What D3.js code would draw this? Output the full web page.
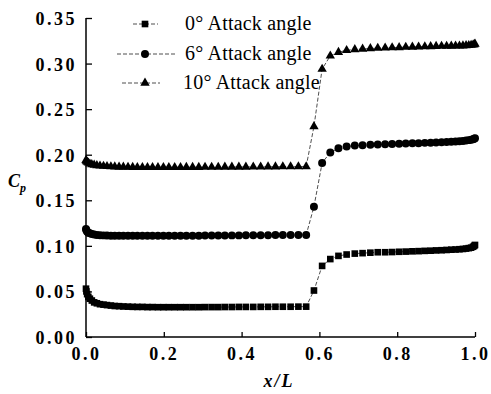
<!DOCTYPE html>
<html>
<head>
<meta charset="utf-8">
<script src="https://cdn.jsdelivr.net/npm/d3@7"></script>
<style>
  html, body { margin: 0; padding: 0; background: #fff; }
  svg { display: block; }
  .tick-label { font-family: "Liberation Serif", serif; font-size: 18px; font-weight: bold; letter-spacing: 2.5px; }
  .legend-text { font-family: "Liberation Serif", serif; font-size: 20px; letter-spacing: 0.2px; }
</style>
</head>
<body>
<svg id="chart" width="491" height="394"></svg>
<script>
// grid positions along the body (x/L)
const xPos = [
  0, 0.001, 0.003, 0.006, 0.010, 0.015, 0.021, 0.028, 0.036, 0.045,
  0.054, 0.064, 0.074, 0.085, 0.096, 0.108, 0.120, 0.132, 0.145, 0.158,
  0.171, 0.185, 0.199, 0.213, 0.228, 0.243, 0.258, 0.274, 0.290, 0.306,
  0.323, 0.340, 0.357, 0.375, 0.393, 0.411, 0.430, 0.449, 0.468, 0.487,
  0.506, 0.526, 0.546, 0.566, 0.586, 0.607, 0.628, 0.649, 0.670, 0.691,
  0.711, 0.731, 0.750, 0.769, 0.787, 0.805, 0.822, 0.839, 0.855, 0.871,
  0.886, 0.900, 0.914, 0.927, 0.939, 0.950, 0.960, 0.969, 0.977, 0.984,
  0.990, 0.995, 0.998, 1.000
];

const cp0 = [
  0.053, 0.050, 0.047, 0.044, 0.042, 0.040, 0.038, 0.037, 0.036, 0.0355,
  0.035, 0.0345, 0.034, 0.0338, 0.0335, 0.0333, 0.0331, 0.033, 0.033, 0.0328,
  0.0328, 0.0327, 0.0327, 0.0327, 0.0327, 0.0327, 0.0327, 0.0327, 0.0327, 0.0328,
  0.0328, 0.0328, 0.0329, 0.0329, 0.033, 0.033, 0.033, 0.0331, 0.0331, 0.0332,
  0.0332, 0.0332, 0.0333, 0.0333, 0.051, 0.078, 0.0855, 0.089, 0.0905, 0.0915,
  0.092, 0.0925, 0.093, 0.093, 0.0932, 0.0935, 0.0937, 0.094, 0.0942, 0.0945,
  0.0947, 0.095, 0.0952, 0.0955, 0.0958, 0.096, 0.0963, 0.0966, 0.097, 0.0975,
  0.098, 0.099, 0.100, 0.101
];

const cp6 = [
  0.1185, 0.117, 0.1155, 0.1145, 0.1138, 0.113, 0.1125, 0.112, 0.1117, 0.1115,
  0.1113, 0.1112, 0.111, 0.111, 0.111, 0.111, 0.111, 0.111, 0.111, 0.111,
  0.111, 0.111, 0.111, 0.111, 0.111, 0.111, 0.111, 0.1112, 0.1112, 0.1113,
  0.1113, 0.1114, 0.1114, 0.1115, 0.1115, 0.1116, 0.1116, 0.1117, 0.1117, 0.1118,
  0.1118, 0.1119, 0.1119, 0.112, 0.143, 0.191, 0.2025, 0.207, 0.209, 0.210,
  0.2105, 0.211, 0.2112, 0.2115, 0.2118, 0.212, 0.2122, 0.2125, 0.2127, 0.213,
  0.2132, 0.2135, 0.2137, 0.214, 0.2142, 0.2145, 0.2148, 0.215, 0.2155, 0.216,
  0.2165, 0.217, 0.2175, 0.218
];

const cp10 = [
  0.194, 0.193, 0.192, 0.191, 0.190, 0.1893, 0.1887, 0.1882, 0.1878, 0.1875,
  0.1872, 0.187, 0.1868, 0.1866, 0.1865, 0.1864, 0.1863, 0.1862, 0.1862, 0.1862,
  0.1862, 0.1862, 0.1862, 0.1862, 0.1862, 0.1862, 0.1863, 0.1863, 0.1863, 0.1864,
  0.1864, 0.1864, 0.1865, 0.1865, 0.1866, 0.1866, 0.1867, 0.1867, 0.1868, 0.1868,
  0.1869, 0.1869, 0.187, 0.187, 0.231, 0.294, 0.3085, 0.3125, 0.3145, 0.3155,
  0.316, 0.3165, 0.317, 0.3172, 0.3175, 0.3177, 0.318, 0.3182, 0.3184, 0.3186,
  0.3188, 0.319, 0.3191, 0.3192, 0.3193, 0.3194, 0.3195, 0.3196, 0.3198, 0.32,
  0.3203, 0.3206, 0.321, 0.3215
];

const seriesNames = ["0°", "6°", "10°"];
const legendSuffix = "Attack angle";
const xTicks = [0, 0.2, 0.4, 0.6, 0.8, 1.0];
const yTicks = [0, 0.05, 0.10, 0.15, 0.20, 0.25, 0.30, 0.35];

const svg = d3.select('#chart');
const margin = { left: 86, right: 16, top: 18, bottom: 57 };
const width = 491, height = 394;

const x = d3.scaleLinear().domain([0, 1]).range([margin.left, width - margin.right]);
const y = d3.scaleLinear().domain([0, 0.35]).range([height - margin.bottom, margin.top]);

const symbols = [
  d3.symbol().type(d3.symbolSquare).size(44),
  d3.symbol().type(d3.symbolCircle).size(50),
  d3.symbol().type(d3.symbolTriangle).size(38)
];

// Axes
const xAxis = svg.append('g')
  .attr('transform', `translate(0,${y(0)})`)
  .call(d3.axisBottom(x).tickValues(xTicks).tickSize(-5).tickPadding(10)
    .tickFormat(d3.format('.1f')));

const yAxis = svg.append('g')
  .attr('transform', `translate(${x(0)},0)`)
  .call(d3.axisLeft(y).tickValues(yTicks).tickSize(-6).tickPadding(9)
    .tickFormat(d3.format('.2f')));

[xAxis, yAxis].forEach(a => {
  a.select('.domain').attr('stroke', '#000').attr('stroke-width', 1.5);
  a.selectAll('.tick line').attr('stroke', '#000').attr('stroke-width', 1.3);
  a.selectAll('.tick text').attr('class', 'tick-label').attr('fill', '#000');
});
// plain spines without d3's outer tick stubs
xAxis.select('.domain').attr('d', `M${x(0)},0H${x(1)}`);
yAxis.select('.domain').attr('d', `M0,${y(0)}V${y(0.35)}`);
yAxis.selectAll('.tick text').attr('dy', '0.36em');

// Series
const allSeries = [cp0, cp6, cp10];
const line = d3.line().x(d => x(d[0])).y(d => y(d[1]));

allSeries.forEach((vals, i) => {
  const pts = xPos.map((xv, j) => [xv, vals[j]]);
  svg.append('path')
    .datum(pts)
    .attr('fill', 'none')
    .attr('stroke', '#222')
    .attr('stroke-width', 0.8)
    .attr('stroke-dasharray', '4,2')
    .attr('d', line);
  svg.append('g').selectAll('path')
    .data(pts)
    .enter().append('path')
    .attr('d', symbols[i])
    .attr('transform', d => `translate(${x(d[0])},${y(d[1])})`)
    .attr('fill', '#000');
});

// Legend
const legendY = [24, 54, 83];
const legendLine = [[133, 158], [117, 175], [122, 160]];
seriesNames.forEach((name, i) => {
  const g = svg.append('g');
  g.append('line')
    .attr('x1', legendLine[i][0]).attr('x2', legendLine[i][1])
    .attr('y1', legendY[i]).attr('y2', legendY[i])
    .attr('stroke', '#222').attr('stroke-width', 0.8)
    .attr('stroke-dasharray', '4,2');
  g.append('path')
    .attr('d', symbols[i])
    .attr('transform', `translate(145,${legendY[i]})`)
    .attr('fill', '#000');
  g.append('text')
    .attr('class', 'legend-text')
    .attr('x', i === 2 ? 183 : 185)
    .attr('y', legendY[i] + 6)
    .text(`${name} ${legendSuffix}`);
});

// Axis titles
const cp = svg.append('text')
  .attr('x', 8).attr('y', 187)
  .style('font-family', '"Liberation Serif", serif')
  .style('font-style', 'italic')
  .style('font-weight', 'bold')
  .style('font-size', '18px');
cp.append('tspan').text('C');
cp.append('tspan').attr('dy', 5).style('font-size', '12px').text('p');

svg.append('text')
  .attr('x', 279).attr('y', 387)
  .attr('text-anchor', 'middle')
  .style('font-family', '"Liberation Serif", serif')
  .style('font-style', 'italic')
  .style('font-weight', 'bold')
  .style('font-size', '18px')
  .style('letter-spacing', '2px')
  .text('x/L');
</script>
</body>
</html>
